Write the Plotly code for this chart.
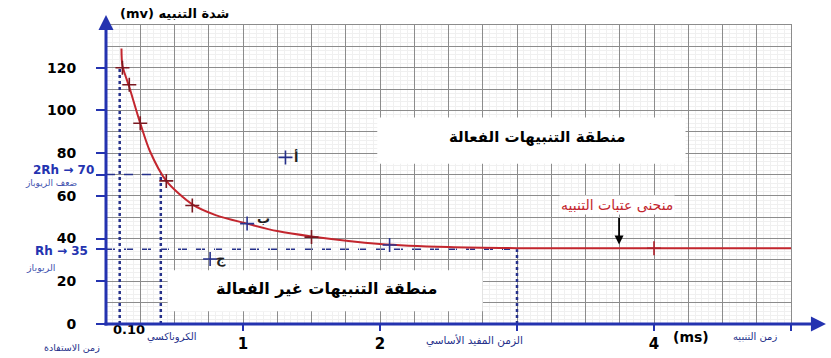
import plotly.graph_objects as go

# Strength-duration (excitability threshold) curve
curve_t = [0.113, 0.12, 0.17, 0.25, 0.32, 0.44, 0.63, 0.8, 1.03, 1.25, 1.5, 2.0, 2.5, 3.0, 3.5, 4.0, 4.5, 5.0]
curve_mv = [129, 121, 111, 94, 81, 67, 56, 51, 47, 43.5, 41, 37.5, 36, 35.5, 35.5, 35.5, 35.5, 35.5]

# Measured threshold points plotted on the curve
pts_t = [0.12, 0.17, 0.25, 0.44, 0.63, 1.03, 1.5, 2.07, 4.0]
pts_mv = [120, 112, 94, 67, 55.5, 47, 40.7, 37, 35.5]
pts_color = ["#7a1820", "#7a1820", "#7a1820", "#7a1820", "#7a1820", "#2a3590", "#7a1820", "#2a3590", "#b0202a"]

# Test stimuli off the curve
test_labels = ["أ", "ج"]
test_t = [1.31, 0.76]
test_mv = [78, 30.4]

# Characteristic values
RHEOBASE = 35
DOUBLE_RH = 70
CHRONAXIE = 0.4
UTIL_TIME = 0.10
USEFUL_TIME = 3.0

y_ticks = [0, 20, 35, 40, 60, 70, 80, 100, 120]
y_ticktext = ["0", "20", "", "40", "60", "", "80", "100", "120"]
x_ticks = [1, 2, 3, 4, 5]
x_ticktext = ["1", "2", "", "4", ""]

BLUE = "#2433b0"
NAVY = "#25308a"
RED = "#c3262e"
FONT = "DejaVu Sans"

fig = go.Figure()

fig.add_trace(go.Scatter(x=curve_t, y=curve_mv, mode="lines",
                         line=dict(color=RED, width=2, shape="spline", smoothing=0.8),
                         hoverinfo="skip", showlegend=False))
fig.add_trace(go.Scatter(x=pts_t, y=pts_mv, mode="markers",
                         marker=dict(symbol="cross-thin", size=10,
                                     line=dict(color=pts_color, width=1.6)),
                         showlegend=False))
fig.add_trace(go.Scatter(x=test_t, y=test_mv, mode="markers",
                         marker=dict(symbol="cross-thin", size=10,
                                     line=dict(color=NAVY, width=1.6)),
                         showlegend=False))
# empty trace carrying the tick axes
fig.add_trace(go.Scatter(x=[], y=[], xaxis="x2", yaxis="y2", showlegend=False))

# Reference lines: rheobase, 2 x rheobase, chronaxie, utilisation time, useful time
fig.add_shape(type="line", x0=0, x1=CHRONAXIE, y0=DOUBLE_RH, y1=DOUBLE_RH,
              line=dict(color=NAVY, width=1.5, dash="dash"))
fig.add_shape(type="line", x0=0, x1=USEFUL_TIME, y0=RHEOBASE, y1=RHEOBASE,
              line=dict(color=NAVY, width=1.5, dash="dash"), layer="below")
fig.add_shape(type="line", x0=UTIL_TIME, x1=UTIL_TIME, y0=0, y1=120,
              line=dict(color=NAVY, width=2.5, dash="dot"))
fig.add_shape(type="line", x0=CHRONAXIE, x1=CHRONAXIE, y0=0, y1=DOUBLE_RH,
              line=dict(color=NAVY, width=2.5, dash="dot"))
fig.add_shape(type="line", x0=USEFUL_TIME, x1=USEFUL_TIME, y0=0, y1=RHEOBASE,
              line=dict(color=NAVY, width=2.5, dash="dot"))

# White zone boxes
fig.add_shape(type="rect", x0=1.98, x1=4.23, y0=75, y1=96.7,
              fillcolor="white", line=dict(width=0), layer="above")
fig.add_shape(type="rect", x0=0.45, x1=2.75, y0=6, y1=25.2,
              fillcolor="white", line=dict(width=0), layer="above")

ann = []
def txt(x, y, text, size, color="black", bold=False, xref="x", yref="y",
        xanchor="center", yanchor="middle", **kw):
    ann.append(dict(x=x, y=y, xref=xref, yref=yref, text=text, showarrow=False,
                    xanchor=xanchor, yanchor=yanchor,
                    font=dict(family=FONT, size=size, color=color,
                              weight="bold" if bold else "normal"), **kw))

txt(3.15, 87.4, "منطقة التنبيهات الفعالة", 15, bold=True)
txt(1.61, 16.4, "منطقة التنبيهات غير الفعالة", 16, bold=True)
txt(3.73, 55.6, "منحنى عتبات التنبيه", 14, color=RED, bgcolor="white")
txt(0.1, 1.037, "(mv) شدة التنبيه", 13, bold=True, xref="paper", yref="paper")

txt(-0.0146, DOUBLE_RH + 2, "2Rh → 70", 12, color=BLUE, bold=True, xref="paper", xanchor="right")
txt(-0.08, 0.47, "ضعف الريوباز", 9, color="#4555b0", xref="paper", yref="paper")
txt(-0.0234, RHEOBASE - 1, "Rh → 35", 12, color=BLUE, bold=True, xref="paper", xanchor="right")
txt(-0.096, 0.188, "الريوباز", 9.5, color="#4555b0", xref="paper", yref="paper")

txt(0.17, -0.017, "0.10", 13, bold=True, yref="paper")
txt(-0.05, -0.077, "زمن الاستفادة", 9.5, color=NAVY, xref="paper", yref="paper")
txt(0.48, -0.043, "الكروناكسي", 10, color=NAVY, yref="paper")
txt(2.69, -0.054, "الزمن المفيد الأساسي", 10.5, color=NAVY, yref="paper")
txt(4.27, -0.043, "(ms)", 14, bold=True, yref="paper")
txt(4.74, -0.043, "زمن التنبيه", 10, color=NAVY, yref="paper")

txt(1.39, 78, "أ", 13, bold=True, color="#222")
txt(1.15, 49.5, "ب", 13, bold=True, color="#222")
txt(0.84, 30.4, "ج", 13, bold=True, color="#222")

# Axis arrows
ann.append(dict(x=1.051, y=0, xref="paper", yref="paper", ax=-723, ay=0, text="",
                showarrow=True, arrowhead=2, arrowsize=1, arrowwidth=3, arrowcolor=BLUE))
ann.append(dict(x=0, y=1.0334, xref="paper", yref="paper", ax=0, ay=312, text="",
                showarrow=True, arrowhead=2, arrowsize=1, arrowwidth=3, arrowcolor=BLUE))
# Arrow pointing at the threshold curve
ann.append(dict(x=3.745, y=37.2, xref="x", yref="y", ax=0, ay=-28, text="",
                showarrow=True, arrowhead=2, arrowsize=1, arrowwidth=1.8, arrowcolor="black"))

grid_major = "#8c8c8c"
grid_minor = "#f0f0f0"

fig.update_layout(
    width=831, height=358,
    margin=dict(l=106, r=40, t=25, b=34, autoexpand=False),
    paper_bgcolor="white", plot_bgcolor="white",
    font=dict(family=FONT),
    annotations=ann,
    xaxis=dict(range=[0, 5], tickmode="linear", tick0=0, dtick=0.25, automargin=False,
               showticklabels=False, ticks="", showgrid=True, gridcolor=grid_major, gridwidth=1,
               minor=dict(dtick=0.05, showgrid=True, gridcolor=grid_minor, gridwidth=1),
               zeroline=False, showline=True, mirror=True, linecolor=grid_major, linewidth=1),
    yaxis=dict(range=[0, 140], tickmode="linear", tick0=0, dtick=10, automargin=False,
               showticklabels=False, ticks="", showgrid=True, gridcolor=grid_major, gridwidth=1,
               minor=dict(dtick=2, showgrid=True, gridcolor=grid_minor, gridwidth=1),
               zeroline=False, showline=True, mirror=True, linecolor=grid_major, linewidth=1),
    xaxis2=dict(range=[0, 5], overlaying="x", anchor="y2", tickmode="array", automargin=False,
                tickvals=x_ticks, ticktext=x_ticktext, ticks="outside", ticklen=6,
                tickwidth=2, tickcolor=BLUE, showgrid=False, zeroline=False, showline=False,
                tickfont=dict(family=FONT, size=15, color="black", weight="bold"),
                ticklabelstandoff=0),
    yaxis2=dict(range=[0, 140], overlaying="y", anchor="x2", side="left", tickmode="array",
                automargin=False,
                tickvals=y_ticks, ticktext=y_ticktext, ticks="outside", ticklen=9,
                tickwidth=2, tickcolor=BLUE, showgrid=False, zeroline=False, showline=False,
                tickfont=dict(family=FONT, size=14, color="black", weight="bold"),
                ticklabelstandoff=17),
)

fig.write_html("out.html")
